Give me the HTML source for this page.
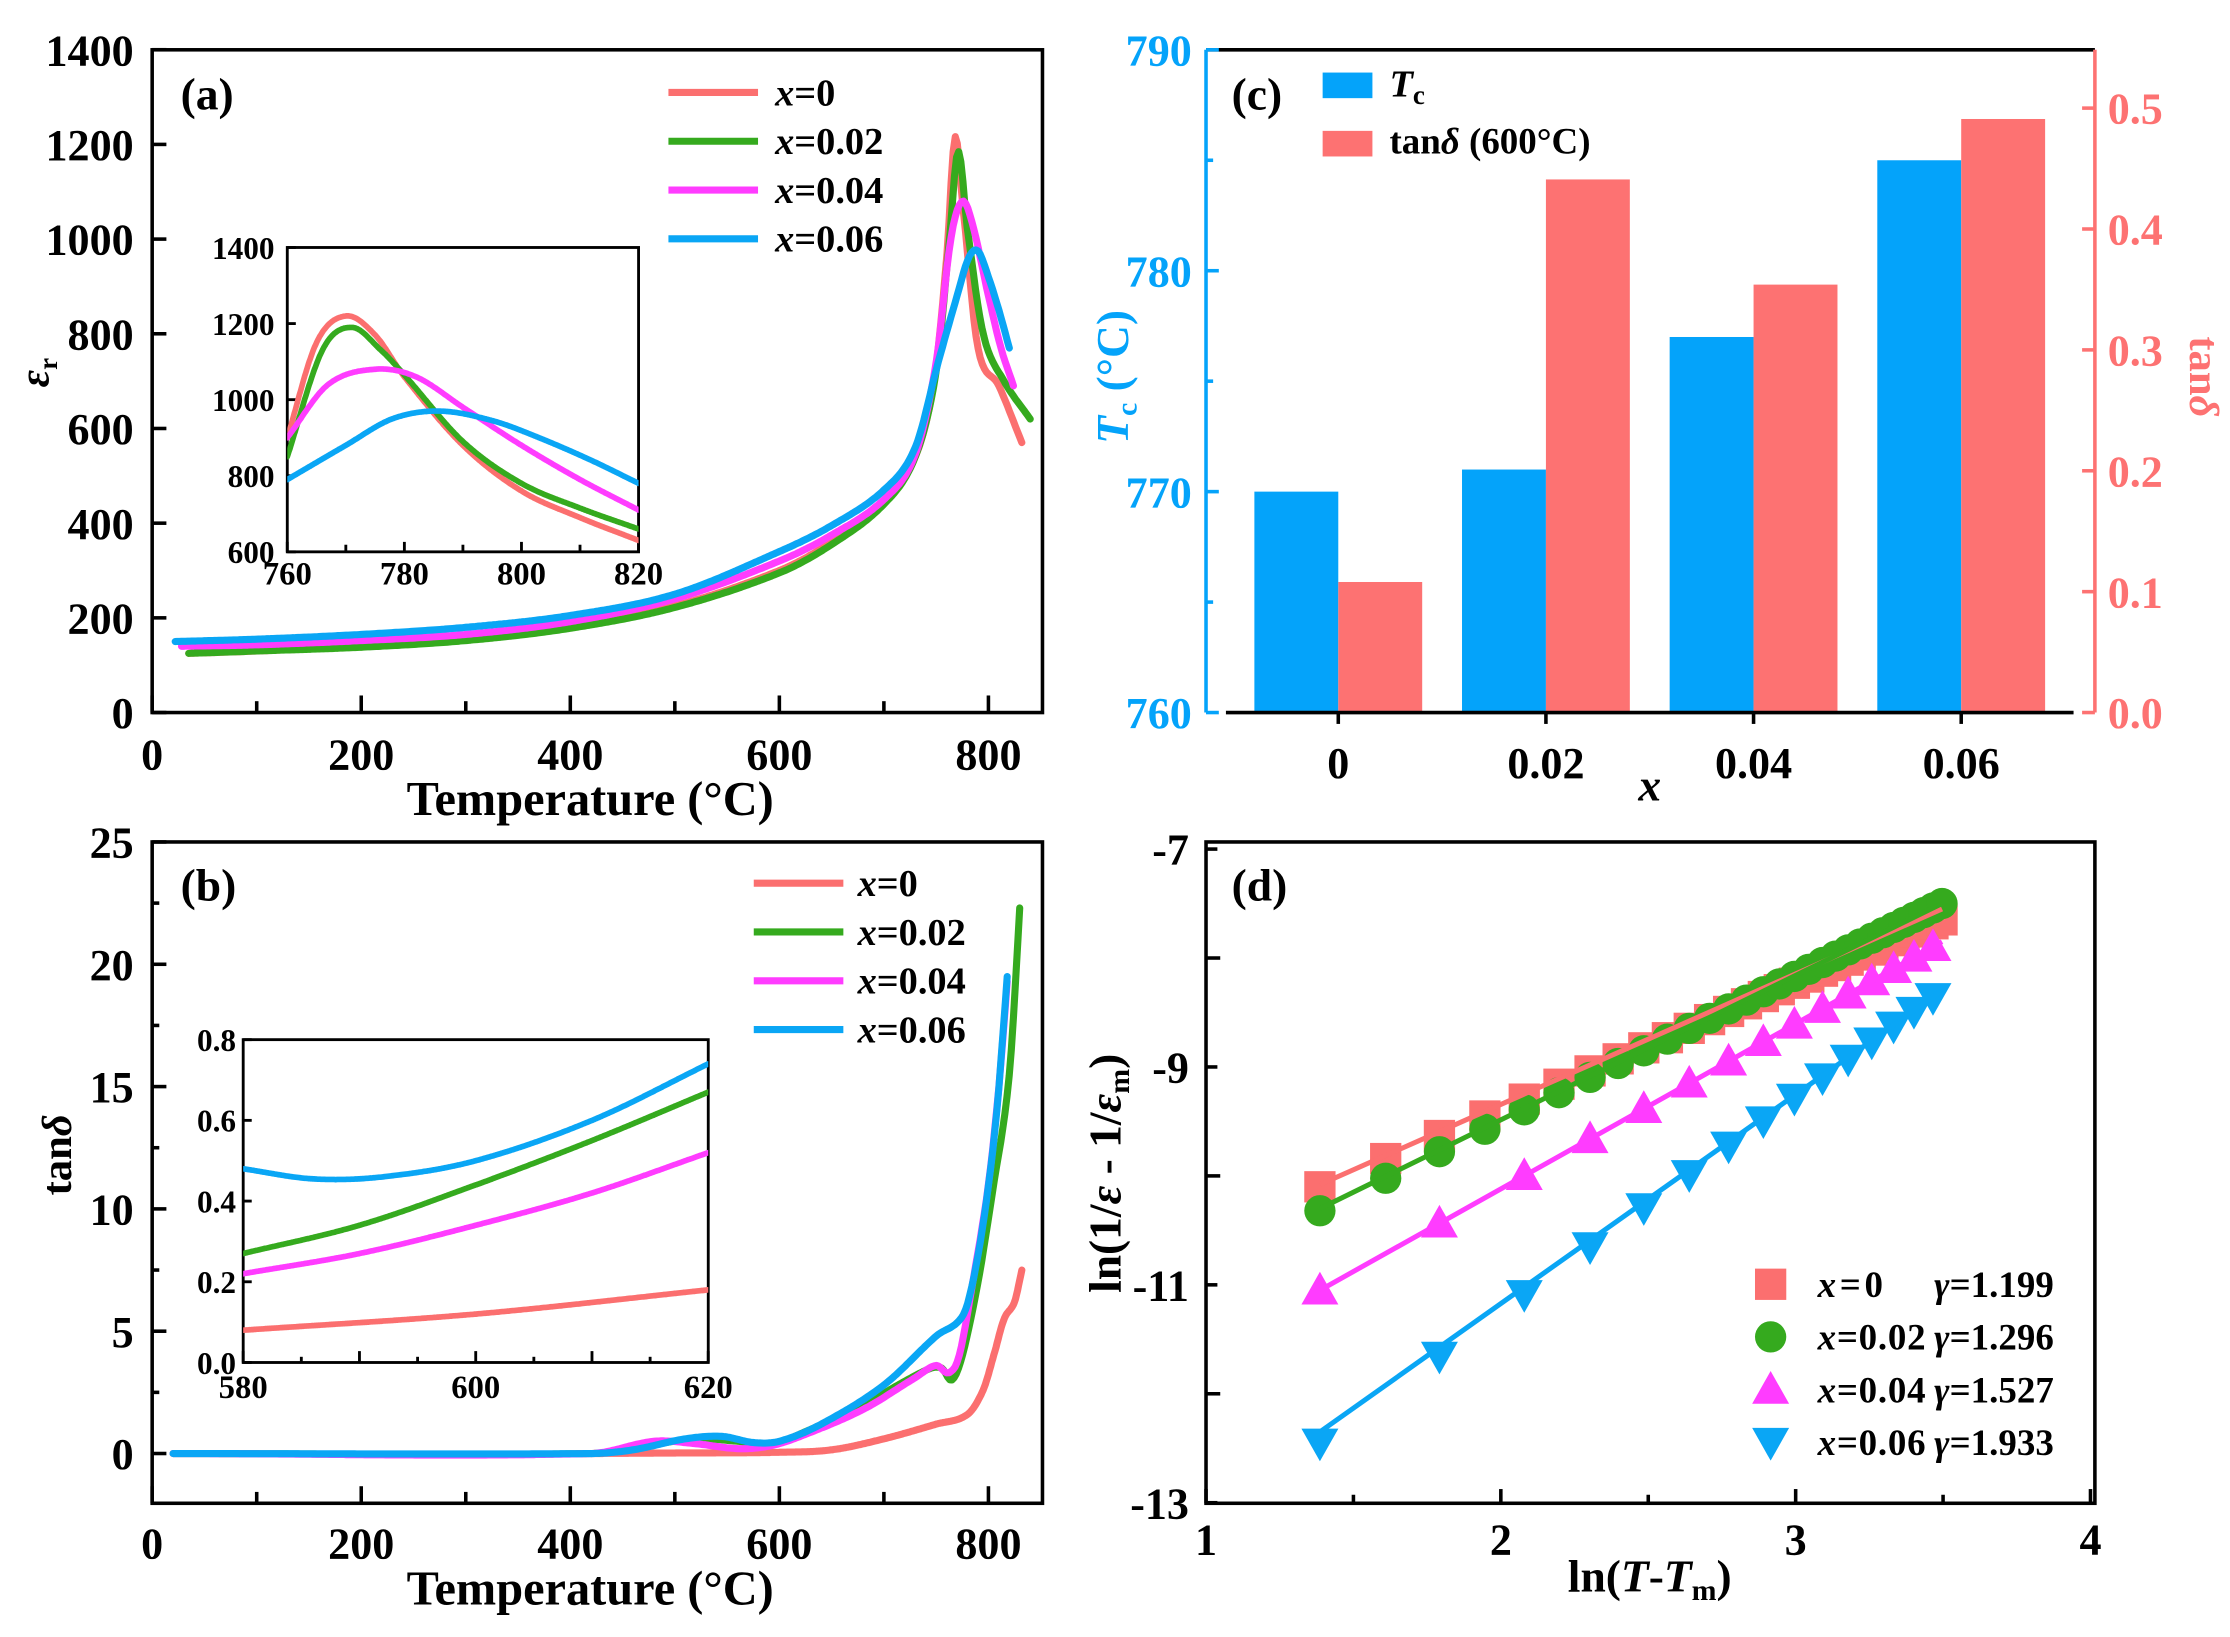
<!DOCTYPE html>
<html><head><meta charset="utf-8"><style>
html,body{margin:0;padding:0;background:#fff;}
svg{display:block;}
text{font-family:"Liberation Serif",serif;font-weight:bold;fill:#000;}
</style></head><body>
<svg id="s" width="2230" height="1637" viewBox="0 0 1568 1151" xmlns="http://www.w3.org/2000/svg"></svg>
<script>
var R='#fb6f6f',G='#35aa1e',M='#ff3cff',B='#0aa6f5';
var o='';
function t(x,y,s,sz,anc,extra){o+='<text x="'+x+'" y="'+y+'" font-size="'+sz+'" text-anchor="'+(anc||'middle')+'" '+(extra||'')+'>'+s+'</text>';}
function l(x1,y1,x2,y2,c,w){o+='<line x1="'+x1+'" y1="'+y1+'" x2="'+x2+'" y2="'+y2+'" stroke="'+(c||'#000')+'" stroke-width="'+(w||2.5)+'"/>';}
function cr(pts,x){for(var i=0;i<pts.length-1;i++){if(x>=pts[i][0]&&x<=pts[i+1][0]){var p0=pts[Math.max(0,i-1)],p1=pts[i],p2=pts[i+1],p3=pts[Math.min(pts.length-1,i+2)];var u=(x-p1[0])/(p2[0]-p1[0]);var m1=(p2[1]-p0[1])/(p2[0]-p0[0])*(p2[0]-p1[0]);var m2=(p3[1]-p1[1])/(p3[0]-p1[0])*(p2[0]-p1[0]);var h00=2*u*u*u-3*u*u+1,h10=u*u*u-2*u*u+u,h01=-2*u*u*u+3*u*u,h11=u*u*u-u*u;return h00*p1[1]+h10*m1+h01*p2[1]+h11*m2;}}return null;}
function curve(pts,fx,fy,c,w,x0,x1,clip){var d='';var n=400;var a=x0!=null?x0:pts[0][0],b=x1!=null?x1:pts[pts.length-1][0];for(var i=0;i<=n;i++){var x=a+(b-a)*i/n;var y=cr(pts,x);if(y==null)continue;d+=(d?'L':'M')+fx(x).toFixed(1)+','+fy(y).toFixed(1);}o+='<path d="'+d+'" fill="none" stroke="'+c+'" stroke-width="'+w+'" stroke-linejoin="round" stroke-linecap="round"'+(clip?' clip-path="url(#'+clip+')"':'')+'/>';}
o+='<defs><clipPath id="ca"><rect x="202" y="174" width="247" height="214"/></clipPath><clipPath id="cb"><rect x="171" y="731" width="327" height="227"/></clipPath></defs>';

// ===== Panel (a)
var ax=function(v){return 107+v*0.735;},ay=function(v){return 501-v*0.3329;};
o+='<rect x="107" y="35" width="626" height="466" fill="none" stroke="#000" stroke-width="2.5"/>';
for(var v=0;v<=1400;v+=200){l(107,ay(v),117,ay(v));t(94,ay(v)+11,v,31,'end');}
for(var v=0;v<=800;v+=100){l(ax(v),501,ax(v),v%200?493:489);if(v%200==0)t(ax(v),541,v,31);}
t(415,573,'Temperature (°C)',34);
o+='<text x="34" y="262" font-size="30" font-style="italic" text-anchor="middle" transform="rotate(-90 34 262)">ε<tspan font-size="19" dy="6" font-style="normal">r</tspan></text>';
t(127,77,'(a)',32,'start');
var A0=[[35,125],[100,130],[200,140],[300,155],[400,180],[500,225],[600,300],[650,360],[700,445],[730,540],[748,700],[760,960],[768,1215],[776,1060],[790,770],[810,690],[832,570]];
var A2=[[35,125],[100,130],[200,138],[300,152],[400,178],[500,222],[600,295],[650,355],[700,440],[730,540],[750,720],[762,980],[771,1185],[780,1020],[795,800],[815,700],[840,620]];
var A4=[[28,140],[100,143],[200,152],[300,165],[400,192],[500,240],[600,320],[650,375],[700,450],[730,545],[750,740],[764,1000],[775,1080],[785,1030],[800,880],[812,770],[824,690]];
var A6=[[22,150],[100,155],[200,165],[300,180],[400,205],[500,250],[600,340],[650,395],[700,470],[730,560],[752,740],[770,880],[781,960],[790,975],[800,920],[810,850],[820,770]];
[[A0,R],[A2,G],[A4,M],[A6,B]].forEach(function(s){curve(s[0],ax,ay,s[1],5);});
[['x=0',R],['x=0.02',G],['x=0.04',M],['x=0.06',B]].forEach(function(e,i){var y=65+i*34.3;l(470,y,533,y,e[1],5);o+='<text x="545" y="'+(y+9)+'" font-size="27" text-anchor="start"><tspan font-style="italic">x</tspan>'+e[0].slice(1)+'</text>';});
var ix=function(v){return 202+(v-760)*247/60;},iy=function(v){return 388-(v-600)*214/800;};
o+='<rect x="202" y="174" width="247" height="214" fill="#fff" stroke="#000" stroke-width="2"/>';
for(var v=600;v<=1400;v+=200){l(202,iy(v),208,iy(v),'#000',2);t(193,iy(v)+8,v,22,'end');}
for(var v=760;v<=820;v+=10){l(ix(v),388,ix(v),v%20?383:381,'#000',2);if(v%20==0)t(ix(v),411,v,23);}
var I0=[[760,900],[765,1150],[770,1220],[775,1170],[780,1060],[790,880],[800,760],[810,690],[820,630]];
var I2=[[760,850],[766,1130],[771,1190],[776,1130],[780,1065],[790,890],[800,780],[810,715],[820,660]];
var I4=[[760,900],[767,1040],[775,1080],[782,1060],[790,980],[800,880],[810,790],[820,710]];
var I6=[[760,790],[770,880],[778,950],[786,970],[795,945],[803,900],[812,840],[820,780]];
[[I0,R],[I2,G],[I4,M],[I6,B]].forEach(function(s){curve(s[0],ix,iy,s[1],4,null,null,'ca');});

// ===== Panel (b)
var bx=ax,by=function(v){return 1022-v*17.2;};
o+='<rect x="107" y="592" width="626" height="465" fill="none" stroke="#000" stroke-width="2.5"/>';
for(var v=0;v<=25;v+=5){l(107,by(v),117,by(v));t(94,by(v)+11,v,31,'end');}
for(var v=2.5;v<25;v+=5){l(107,by(v),112,by(v));}
for(var v=0;v<=800;v+=100){l(ax(v),1057,ax(v),v%200?1049:1045);if(v%200==0)t(ax(v),1096,v,31);}
t(415,1128,'Temperature (°C)',34);
o+='<text x="50" y="812" font-size="30" text-anchor="middle" transform="rotate(-90 50 812)">tan<tspan font-style="italic">δ</tspan></text>';
t(127,633,'(b)',32,'start');
var B0=[[420,0],[500,0.02],[600,0.05],[650,0.15],[700,0.6],[750,1.2],[780,1.6],[795,2.6],[805,4],[815,5.5],[825,6.2],[832,7.5]];
var B2=[[20,0],[420,0],[470,0.3],[520,0.6],[560,0.5],[590,0.35],[620,0.8],[680,2],[740,3.4],[755,3.5],[765,3],[775,4],[790,7],[805,11],[820,15.5],[830,22.3]];
var B4=[[20,0],[420,0],[480,0.5],[520,0.4],[560,0.2],[590,0.3],[620,0.7],[680,1.8],[730,3.1],[750,3.6],[762,3.3],[772,4],[785,7],[800,11],[810,15],[818,19.3]];
var B6=[[20,0],[420,0],[460,0.15],[510,0.6],[545,0.7],[575,0.45],[600,0.5],[640,1.2],[700,2.8],[750,4.8],[775,5.6],[785,7],[797,10],[808,14],[818,19.5]];
[[B0,R],[B2,G],[B4,M],[B6,B]].forEach(function(s){curve(s[0],bx,by,s[1],5);});
[['x=0',R],['x=0.02',G],['x=0.04',M],['x=0.06',B]].forEach(function(e,i){var y=621+i*34.3;l(530,y,593,y,e[1],5);o+='<text x="603" y="'+(y+9)+'" font-size="27" text-anchor="start"><tspan font-style="italic">x</tspan>'+e[0].slice(1)+'</text>';});
var jx=function(v){return 171+(v-580)*327/40;},jy=function(v){return 958-v*227/0.8;};
o+='<rect x="171" y="731" width="327" height="227" fill="#fff" stroke="#000" stroke-width="2"/>';
for(var v=0;v<=0.8001;v+=0.2){l(171,jy(v),177,jy(v),'#000',2);t(166,jy(v)+8,v.toFixed(1),22,'end');}
for(var v=580;v<=620;v+=5){l(jx(v),958,jx(v),v%10?954:950,'#000',2);if(v%20==0)t(jx(v),983,v,23);}
var J0=[[580,0.08],[600,0.12],[620,0.18]];
var J2=[[580,0.27],[590,0.34],[600,0.44],[610,0.55],[620,0.67]];
var J4=[[580,0.22],[590,0.27],[600,0.34],[610,0.42],[620,0.52]];
var J6=[[580,0.48],[586,0.455],[592,0.46],[600,0.5],[610,0.6],[620,0.74]];
[[J0,R],[J2,G],[J4,M],[J6,B]].forEach(function(s){curve(s[0],jx,jy,s[1],4,null,null,'cb');});

// ===== Panel (c)
var cy=function(v){return 501-(v-760)*466/30;},ry=function(v){return 501-v*850;};
var tc=[770,771,777,785],td=[0.108,0.441,0.354,0.491],xs=[882,1028,1174,1320];
for(var i=0;i<4;i++){o+='<rect x="'+xs[i]+'" y="'+cy(tc[i])+'" width="59" height="'+(501-cy(tc[i]))+'" fill="#04a3fa"/>';o+='<rect x="'+(xs[i]+59)+'" y="'+ry(td[i])+'" width="59" height="'+(501-ry(td[i]))+'" fill="#fd7272"/>';}
l(848,35,1473,35,'#000',2.5);l(848,35,848,501,'#04a3fa',2.5);l(1473,35,1473,501,'#fd7272',2.5);l(862,501,1458,501,'#000',2.5);
for(var v=760;v<=790;v+=5){l(848,cy(v),v%10?853:857,cy(v),'#04a3fa',2.5);if(v%10==0)o+='<text x="838" y="'+(cy(v)+11)+'" font-size="31" text-anchor="end" style="fill:#04a3fa">'+v+'</text>';}
for(var v=0;v<=0.5001;v+=0.1){l(1473,ry(v),1464,ry(v),'#fd7272',2.5);o+='<text x="1482" y="'+(ry(v)+11)+'" font-size="31" text-anchor="start" style="fill:#fd7272">'+v.toFixed(1)+'</text>';}
for(var i=0;i<4;i++){l(xs[i]+59,501,xs[i]+59,509);t(xs[i]+59,547,['0','0.02','0.04','0.06'][i],31);}
o+='<text x="1160" y="563" font-size="32" font-style="italic" text-anchor="middle">x</text>';
o+='<text x="793" y="265" font-size="32" text-anchor="middle" transform="rotate(-90 793 265)" style="fill:#04a3fa"><tspan font-style="italic" style="fill:#04a3fa">T</tspan><tspan font-size="21" dy="6" style="fill:#04a3fa">c</tspan><tspan dy="-6" style="fill:#04a3fa"> (°C)</tspan></text>';
o+='<text x="1540" y="265" font-size="30" text-anchor="middle" transform="rotate(90 1540 265)" style="fill:#fd7272">tan<tspan font-style="italic" style="fill:#fd7272">δ</tspan></text>';
t(866,77,'(c)',32,'start');
o+='<rect x="930" y="51" width="35" height="18" fill="#04a3fa"/><rect x="930" y="92" width="35" height="18" fill="#fd7272"/>';
o+='<text x="977" y="68" font-size="27" text-anchor="start"><tspan font-style="italic">T</tspan><tspan font-size="19" dy="5">c</tspan></text>';
o+='<text x="977" y="108" font-size="26" text-anchor="start">tan<tspan font-style="italic">δ</tspan> (600°C)</text>';

// ===== Panel (d)
var dx=function(v){return 848+(v-1)*207.3;};
var dy=function(v){return 597+(-7-v)*76.6;};
o+='<rect x="848" y="592" width="625" height="465" fill="none" stroke="#000" stroke-width="2.5"/>';
for(var v=-13;v<=-7;v++){l(848,dy(v),v%2?856:858,dy(v));if(v%2)t(836,dy(v)+11,v,31,'end');}
for(var v=1;v<=4;v+=0.5){l(dx(v),1057,dx(v),v%1?1051:1047);if(v%1==0)t(dx(v),1093,v,31);}
o+='<text x="1160" y="1119" font-size="32" text-anchor="middle">ln(<tspan font-style="italic">T</tspan>-<tspan font-style="italic">T</tspan><tspan font-size="21" dy="6">m</tspan><tspan dy="-6">)</tspan></text>';
o+='<text x="788" y="825" font-size="32" text-anchor="middle" transform="rotate(-90 788 825)">ln(1/<tspan font-style="italic">ε</tspan> - 1/<tspan font-style="italic">ε</tspan><tspan font-size="21" dy="6">m</tspan><tspan dy="-6">)</tspan></text>';
t(866,633,'(d)',32,'start');
var D=[[-10.2,-7.65,R,'sq',1],[-10.32,-7.5,G,'ci',1],[-11.05,-7.85,M,'up',2],[-12.45,-8.3,B,'dn',2]];
var fits=[[-10.08,-7.55],[-10.3,-7.5],[-11.05,-7.85],[-12.35,-8.3]];
function mk(type,x,y,c){var s=11;if(type=='sq')o+='<rect x="'+(x-s)+'" y="'+(y-s)+'" width="'+(2*s)+'" height="'+(2*s)+'" fill="'+c+'"/>';else if(type=='ci')o+='<circle cx="'+x+'" cy="'+y+'" r="'+s+'" fill="'+c+'"/>';else if(type=='up')o+='<polygon points="'+x+','+(y-13)+' '+(x-13)+','+(y+10)+' '+(x+13)+','+(y+10)+'" fill="'+c+'"/>';else o+='<polygon points="'+x+','+(y+13)+' '+(x-13)+','+(y-10)+' '+(x+13)+','+(y-10)+'" fill="'+c+'"/>';}
var x0=Math.log(4),x1=Math.log(33);
D.forEach(function(d,k){
for(var n=4;n<=33;n+=d[4]){var x=Math.log(n);var u=(x-x0)/(x1-x0);var y=d[0]+(d[1]-d[0])*u;var wig=(k==0?0.1:0);mk(d[3],dx(x),dy(y+wig*(1-u)),d[2]);}
});
D.forEach(function(d,k){var f=fits[k];l(dx(x0),dy(f[0]),dx(x1),dy(f[1]),d[2],3.5);});
var lg=[['sq','0','=1.199',R],['ci','0.02','=1.296',G],['up','0.04','=1.527',M],['dn','0.06','=1.933',B]];
lg.forEach(function(e,i){var y=903+i*37;mk(e[0],1245,y,e[3]);o+='<text x="1278" y="'+(y+9)+'" font-size="26" text-anchor="start" textLength="'+(e[1]=='0'?46:76)+'"><tspan font-style="italic">x</tspan>='+e[1]+'</text>';o+='<text x="1360" y="'+(y+9)+'" font-size="26" text-anchor="start"><tspan font-style="italic">γ</tspan>'+e[2]+'</text>';});

document.getElementById('s').innerHTML=o;
</script>
</body></html>
